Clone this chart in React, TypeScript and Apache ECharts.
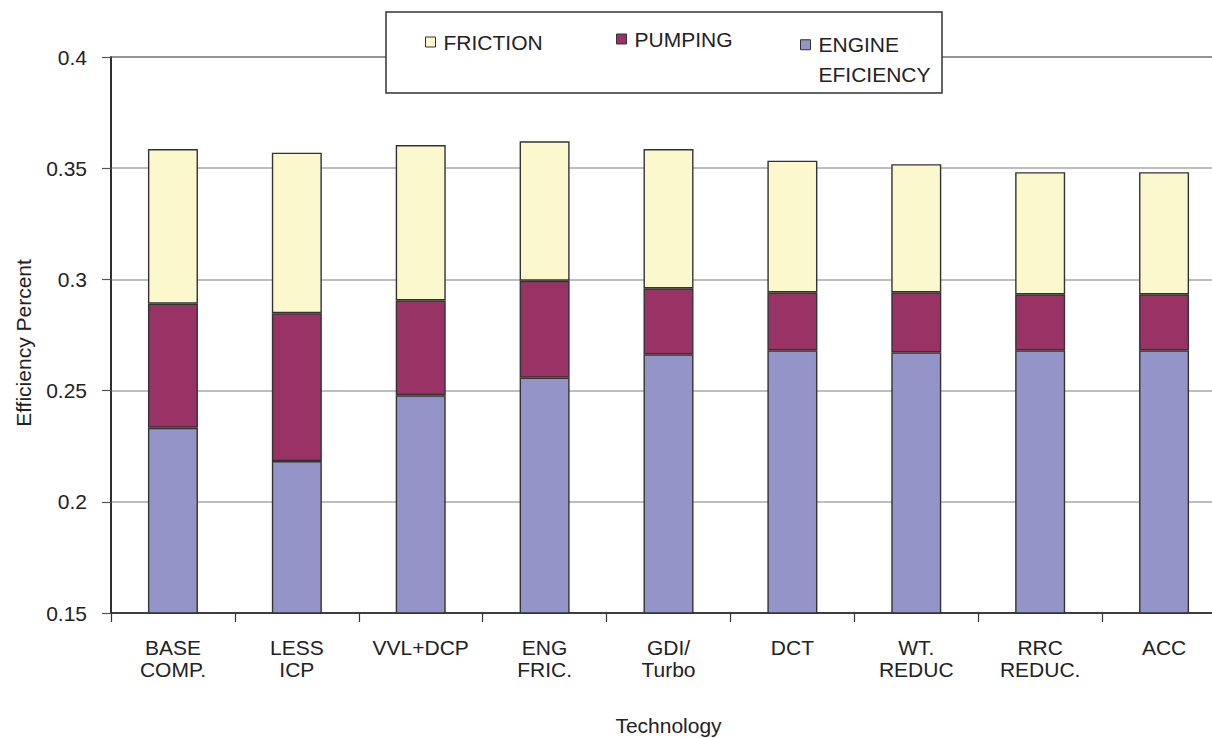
import React, { useEffect, useRef } from "react";
import * as echarts from "echarts";

const categories = [
  "BASE\nCOMP.",
  "LESS\nICP",
  "VVL+DCP",
  "ENG\nFRIC.",
  "GDI/\nTurbo",
  "DCT",
  "WT.\nREDUC",
  "RRC\nREDUC.",
  "ACC",
];

// stacked segment sizes (bottom to top)
const engineEfficiency = [0.2333, 0.2183, 0.2479, 0.2558, 0.2663, 0.2681, 0.2672, 0.2681, 0.2681];
const pumping = [0.0558, 0.0665, 0.0427, 0.0436, 0.0297, 0.0261, 0.027, 0.0252, 0.0252];
const friction = [0.0695, 0.0722, 0.0698, 0.0627, 0.0626, 0.0592, 0.0576, 0.0549, 0.0549];

const yMin = 0.15;
const yMax = 0.4;
const yInterval = 0.05;

const FONT = "'Liberation Sans', Arial, sans-serif";
const TEXT = "#222";
const FS = 21;

export default function App() {
  const ref = useRef<HTMLDivElement>(null);

  useEffect(() => {
    if (!ref.current) return;
    const chart = echarts.init(ref.current, null, { renderer: "svg" });
    const barBorder = { borderColor: "#333", borderWidth: 1.4 };
    const legendCommon = {
      padding: 0,
      z: 20,
      itemWidth: 10,
      itemHeight: 10,
      icon: "rect",
      selectedMode: false,
      itemStyle: { borderColor: "#333", borderWidth: 1 },
    };
    chart.setOption({
      animation: false,
      backgroundColor: "#fff",
      textStyle: { fontFamily: FONT, color: TEXT },
      grid: {
        left: 111,
        top: 57,
        bottom: 125,
        width: 1115,
        containLabel: false,
        outerBoundsMode: "none",
        show: true,
        borderColor: "#222",
        borderWidth: 1.5,
        backgroundColor: "transparent",
      },
      graphic: [
        {
          type: "rect",
          z: 10,
          shape: { x: 386, y: 12, width: 556, height: 81 },
          style: { fill: "#fff", stroke: "#333", lineWidth: 1.5 },
        },
      ],
      legend: [
        {
          ...legendCommon,
          data: ["FRICTION"],
          left: 425,
          top: 31,
          textStyle: { fontFamily: FONT, fontSize: FS, color: TEXT, lineHeight: 22, padding: [0, 0, 0, 3] },
        },
        {
          ...legendCommon,
          data: ["PUMPING"],
          left: 616,
          top: 28,
          textStyle: { fontFamily: FONT, fontSize: FS, color: TEXT, lineHeight: 22, padding: [0, 0, 0, 3] },
        },
        {
          ...legendCommon,
          data: ["ENGINE EFICIENCY"],
          left: 800,
          top: 0.5,
          formatter: () => "\nENGINE\nEFICIENCY",
          textStyle: { fontFamily: FONT, fontSize: FS, color: TEXT, lineHeight: 29.5, padding: [0, 0, 0, 3] },
        },
      ],
      xAxis: {
        type: "category",
        data: categories,
        name: "Technology",
        nameLocation: "middle",
        nameGap: 101,
        nameTextStyle: { fontFamily: FONT, fontSize: FS, color: TEXT, lineHeight: 22 },
        axisLine: { lineStyle: { color: "#222", width: 1.5 } },
        axisTick: { show: true, length: 9, lineStyle: { color: "#333", width: 1.2 } },
        axisLabel: { fontFamily: FONT, fontSize: FS, color: TEXT, lineHeight: 22, margin: 23, interval: 0 },
      },
      yAxis: {
        type: "value",
        min: yMin,
        max: yMax,
        interval: yInterval,
        name: "Efficiency Percent",
        nameLocation: "middle",
        nameGap: 77,
        nameTextStyle: { fontFamily: FONT, fontSize: FS, color: TEXT, lineHeight: 22, padding: [0, 16, 0, 0] },
        axisLine: { show: true, lineStyle: { color: "#222", width: 1.5 } },
        axisTick: { show: true, length: 9, lineStyle: { color: "#555", width: 1.2 } },
        axisLabel: {
          fontFamily: FONT,
          fontSize: FS,
          color: TEXT,
          margin: 24,
          formatter: (v: number) => String(+v.toFixed(2)),
        },
        splitLine: { show: true, lineStyle: { color: "#a8a8a8", width: 1.5 } },
      },
      series: [
        {
          name: "ENGINE EFICIENCY",
          type: "bar",
          stack: "total",
          data: engineEfficiency,
          barWidth: 50,
          itemStyle: { color: "#9494C8", ...barBorder },
        },
        {
          name: "PUMPING",
          type: "bar",
          stack: "total",
          data: pumping,
          barWidth: 50,
          itemStyle: { color: "#993366", ...barBorder },
        },
        {
          name: "FRICTION",
          type: "bar",
          stack: "total",
          data: friction,
          barWidth: 50,
          itemStyle: { color: "#FBF8CD", ...barBorder },
        },
      ],
    });
    return () => chart.dispose();
  }, []);

  return (
    <div
      ref={ref}
      style={{ position: "absolute", left: 0, top: 0, width: 1212, height: 738 }}
    />
  );
}
